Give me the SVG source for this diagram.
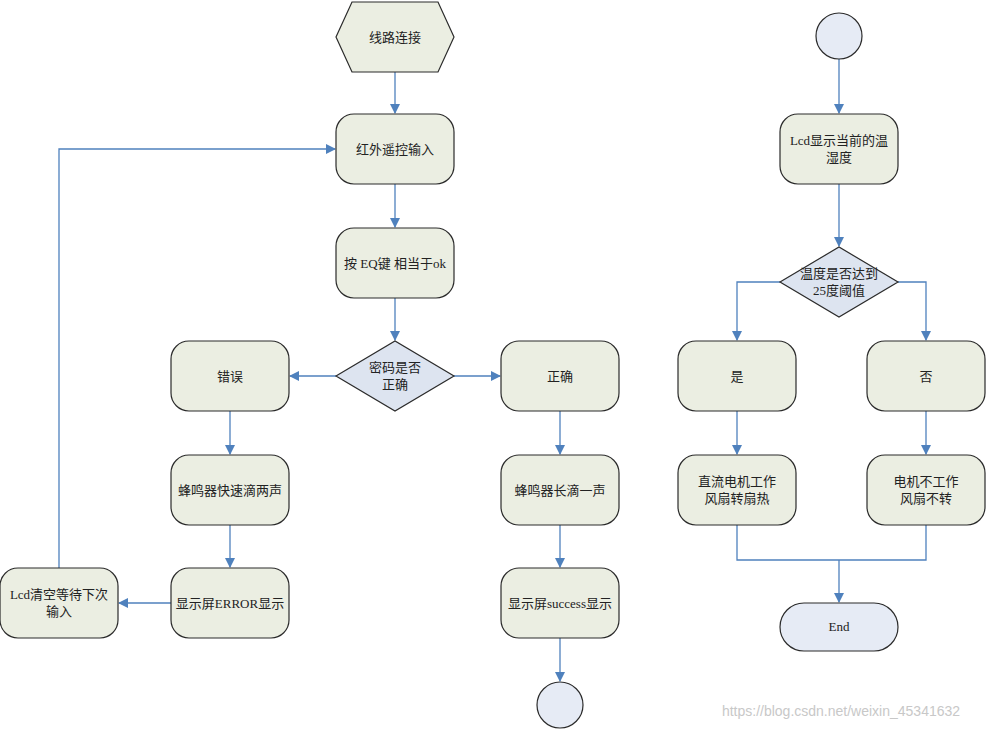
<svg xmlns="http://www.w3.org/2000/svg" width="986" height="729" viewBox="0 0 986 729">
<defs>
<marker id="a" markerWidth="10" markerHeight="10" refX="9" refY="5" orient="auto" markerUnits="userSpaceOnUse"><path d="M0,0 L10,5 L0,10 z" fill="#4f81bd"/></marker>
<style>
.n{fill:#ebeee2;stroke:#2b2b2b;stroke-width:1.2}
.d{fill:#dde4f0;stroke:#2b2b2b;stroke-width:1.2}
.c{fill:#e6ebf5;stroke:#2b2b2b;stroke-width:1.2}
text{font-family:"Liberation Serif","Noto Sans CJK SC",serif;font-size:13px;fill:#222;text-anchor:middle}
#conn path{fill:none;stroke:#4f81bd;stroke-width:1.3}
</style>
</defs>
<rect width="986" height="729" fill="#fff"/>
<g id="conn">
<path d="M395,72V113" marker-end="url(#a)"/>
<path d="M395,184V227" marker-end="url(#a)"/>
<path d="M395,298V340" marker-end="url(#a)"/>
<path d="M336,376H290" marker-end="url(#a)"/>
<path d="M454,376H500" marker-end="url(#a)"/>
<path d="M230,411V454" marker-end="url(#a)"/>
<path d="M230,525V567" marker-end="url(#a)"/>
<path d="M171,603H119" marker-end="url(#a)"/>
<path d="M59,568V149H335" marker-end="url(#a)"/>
<path d="M560,411V454" marker-end="url(#a)"/>
<path d="M560,525V567" marker-end="url(#a)"/>
<path d="M560,638V681" marker-end="url(#a)"/>
<path d="M839,59V113" marker-end="url(#a)"/>
<path d="M839,184V246" marker-end="url(#a)"/>
<path d="M780,282H737V340" marker-end="url(#a)"/>
<path d="M898,282H926V340" marker-end="url(#a)"/>
<path d="M737,411V454" marker-end="url(#a)"/>
<path d="M926,411V454" marker-end="url(#a)"/>
<path d="M737,525V560H926V525"/>
<path d="M839,560V602" marker-end="url(#a)"/>
</g>
<g id="start"><polygon class="n" points="336,37 352,2 438,2 454,37 438,72 352,72"/><text x="395" y="42">线路连接</text></g>
<g id="ir"><rect class="n" x="336" y="114" width="118" height="70" rx="18"/><text x="395" y="154">红外遥控输入</text></g>
<g id="eq"><rect class="n" x="336" y="228" width="118" height="70" rx="18"/><text x="395" y="268">按 EQ键 相当于ok</text></g>
<g id="pw"><polygon class="d" points="336,376 395,341 454,376 395,411"/><text x="395" y="372">密码是否</text><text x="395" y="389">正确</text></g>
<g id="err"><rect class="n" x="171" y="341" width="118" height="70" rx="18"/><text x="230" y="381">错误</text></g>
<g id="ok"><rect class="n" x="501" y="341" width="118" height="70" rx="18"/><text x="560" y="381">正确</text></g>
<g id="b2"><rect class="n" x="171" y="455" width="118" height="70" rx="18"/><text x="230" y="495">蜂鸣器快速滴两声</text></g>
<g id="b1"><rect class="n" x="501" y="455" width="118" height="70" rx="18"/><text x="560" y="495">蜂鸣器长滴一声</text></g>
<g id="de"><rect class="n" x="171" y="568" width="118" height="70" rx="18"/><text x="230" y="608">显示屏ERROR显示</text></g>
<g id="ds"><rect class="n" x="501" y="568" width="118" height="70" rx="18"/><text x="560" y="608">显示屏success显示</text></g>
<g id="lcdc"><rect class="n" x="0" y="568" width="118" height="70" rx="18"/><text x="59" y="599">Lcd清空等待下次</text><text x="59" y="616">输入</text></g>
<g id="end1"><circle class="c" cx="560" cy="705" r="23"/></g>
<g id="start2"><circle class="c" cx="839" cy="36" r="23"/></g>
<g id="lcd"><rect class="n" x="780" y="114" width="118" height="70" rx="18"/><text x="839" y="145">Lcd显示当前的温</text><text x="839" y="162">湿度</text></g>
<g id="temp"><polygon class="d" points="780,282 839,247 898,282 839,317"/><text x="839" y="278">温度是否达到</text><text x="839" y="295">25度阈值</text></g>
<g id="yes"><rect class="n" x="678" y="341" width="118" height="70" rx="18"/><text x="737" y="381">是</text></g>
<g id="no"><rect class="n" x="867" y="341" width="118" height="70" rx="18"/><text x="926" y="381">否</text></g>
<g id="m1"><rect class="n" x="678" y="455" width="118" height="70" rx="18"/><text x="737" y="486">直流电机工作</text><text x="737" y="503">风扇转扇热</text></g>
<g id="m0"><rect class="n" x="867" y="455" width="118" height="70" rx="18"/><text x="926" y="486">电机不工作</text><text x="926" y="503">风扇不转</text></g>
<g id="end"><rect class="c" x="780" y="603" width="118" height="48" rx="24"/><text x="839" y="631">End</text></g>
<text x="841" y="716" style="font-family:'Liberation Sans',sans-serif;font-size:14px;fill:#c8c8c8">https://blog.csdn.net/weixin_45341632</text>
</svg>
